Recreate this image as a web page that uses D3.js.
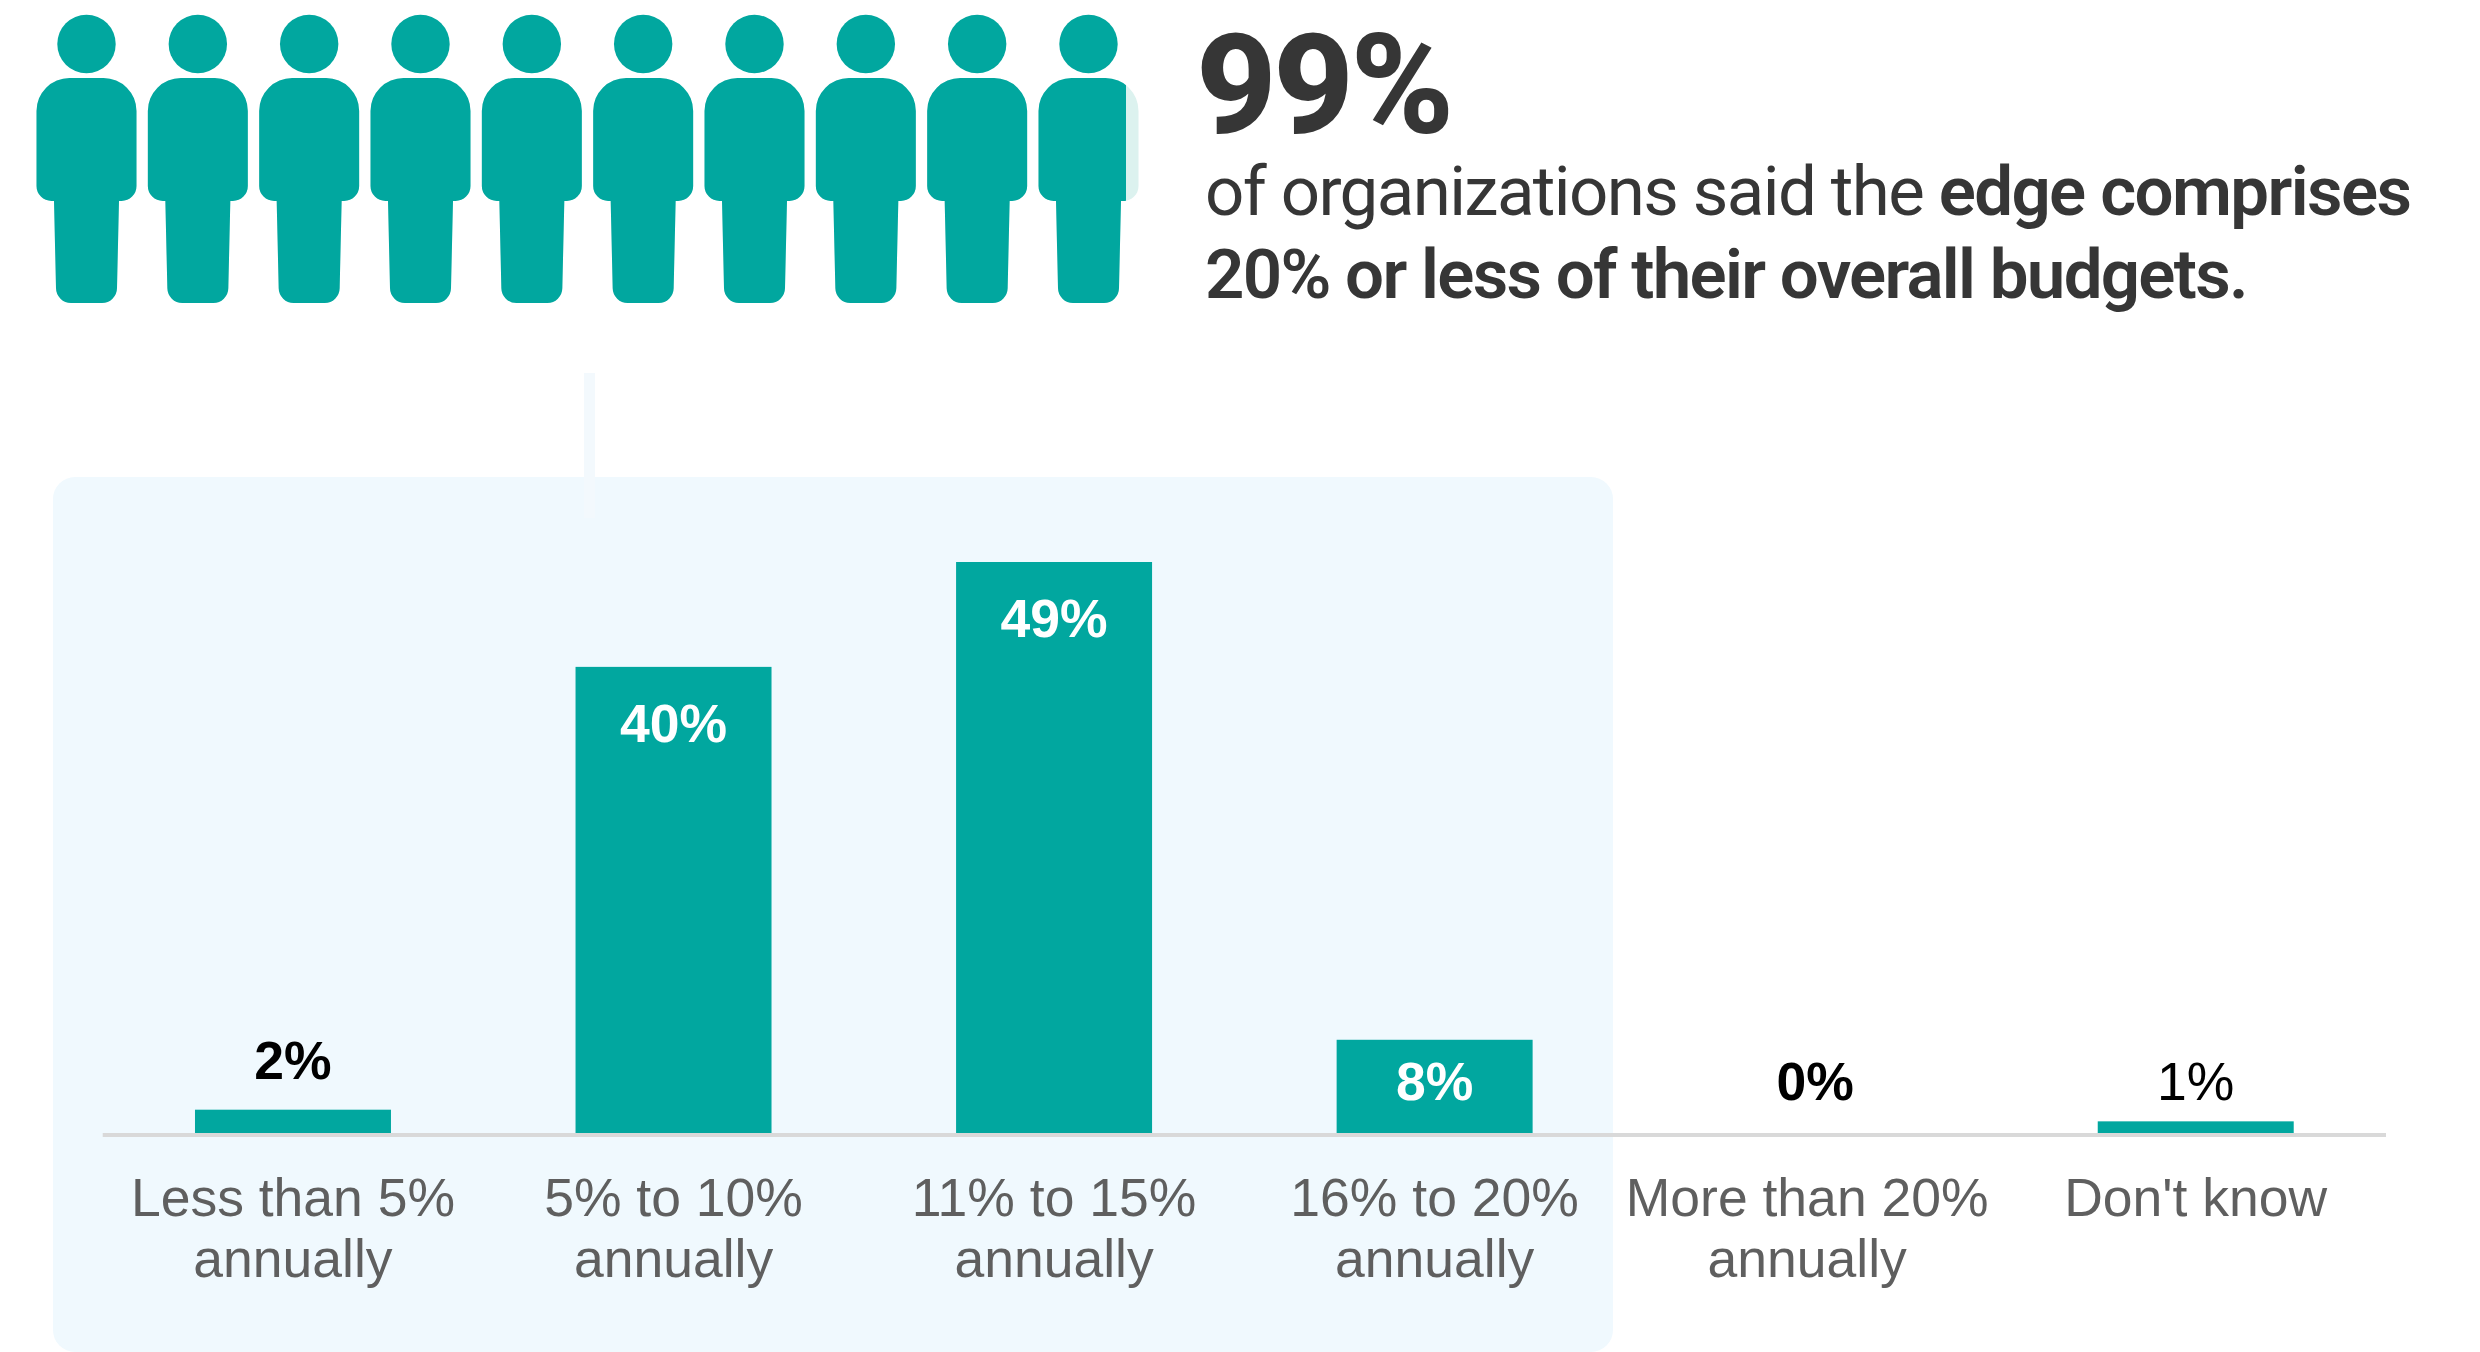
<!DOCTYPE html>
<html>
<head>
<meta charset="utf-8">
<script src="https://cdnjs.cloudflare.com/ajax/libs/d3/7.9.0/d3.min.js"></script>
<style>
  html, body { margin: 0; padding: 0; background: #fff; }
  svg { display: block; }
</style>
</head>
<body>
<svg id="chart" width="2480" height="1352"></svg>
<script>
// Survey answers: share of organizations per annual budget band
const categories = [
  ["Less than 5%", "annually"],
  ["5% to 10%", "annually"],
  ["11% to 15%", "annually"],
  ["16% to 20%", "annually"],
  ["More than 20%", "annually"],
  ["Don't know"]
];
const values = [2, 40, 49, 8, 0, 1];
const valueLabels = ["2%", "40%", "49%", "8%", "0%", "1%"];
const labelWeights = [700, 700, 700, 700, 700, 400];
const categoryNudge = [0, 0, 0, 0, -8, 0];
const headlineValue = 99;
const headlineLead = "of organizations said the ";
const headlineStrong = "edge comprises";
const headlineSecond = "20% or less of their overall budgets.";
const peopleCount = 10;

const TEAL = "#01a79f";
const TEAL_PALE = "#dcf2ef";
const INK = "#363636";
const GREY = "#5f5f5f";
const ARIAL = "'Liberation Sans', Arial, sans-serif";
const ROBOTO = "Roboto, sans-serif";

const svg = d3.select("#chart");

// Highlight panel behind the first four bands, open at the page bottom edge
svg.append("rect")
  .attr("x", 53).attr("y", 477)
  .attr("width", 1560).attr("height", 875)
  .attr("rx", 22)
  .attr("fill", "#f0f9fe");

// Thin connector from the pictogram down into the panel
svg.append("rect")
  .attr("x", 584).attr("y", 373)
  .attr("width", 11).attr("height", 145)
  .attr("fill", "#f3f9fd");

// Bars
const x = d3.scaleBand()
  .domain(d3.range(categories.length))
  .range([102.7, 2386])
  .paddingInner(0.485)
  .paddingOuter(0.2425);
const y = d3.scaleLinear().domain([0, 49]).range([1133, 562]);

svg.selectAll("rect.bar")
  .data(values)
  .join("rect")
  .attr("class", "bar")
  .attr("x", (d, i) => x(i))
  .attr("y", d => y(d))
  .attr("width", x.bandwidth())
  .attr("height", d => y(0) - y(d))
  .attr("fill", TEAL);

// Baseline
svg.append("line")
  .attr("x1", 102.7).attr("x2", 2386)
  .attr("y1", 1135).attr("y2", 1135)
  .attr("stroke", "#d9d9d9").attr("stroke-width", 4);

// Value labels: white inside the teal bars, black above the short ones
const insideAt = 8;
const tallAt = 40;
svg.selectAll("text.value")
  .data(values)
  .join("text")
  .attr("class", "value")
  .attr("x", (d, i) => x(i) + x.bandwidth() / 2)
  .attr("y", d => {
    if (d >= tallAt) return y(d) + 75;
    return d === 2 ? 1079 : 1100;
  })
  .attr("text-anchor", "middle")
  .attr("font-family", ARIAL)
  .attr("font-size", 53.5)
  .attr("font-weight", (d, i) => labelWeights[i])
  .attr("fill", d => d >= insideAt ? "#ffffff" : "#000000")
  .text((d, i) => valueLabels[i]);

// Category labels
const catLabels = svg.selectAll("text.category")
  .data(categories)
  .join("text")
  .attr("class", "category")
  .attr("text-anchor", "middle")
  .attr("font-family", ARIAL)
  .attr("font-size", 53.5)
  .attr("fill", GREY);
catLabels.selectAll("tspan")
  .data((d, i) => d.map(line => ({ line, i })))
  .join("tspan")
  .attr("x", d => x(d.i) + x.bandwidth() / 2 + categoryNudge[d.i])
  .attr("y", (d, j) => 1216 + j * 61)
  .text(d => d.line);

// Pictogram row: each figure is filled up to its share of the headline value
const person = d3.path();
person.moveTo(69.5, 78);
person.lineTo(103.5, 78);
person.arcTo(136.5, 78, 136.5, 111, 33);
person.lineTo(136.5, 186);
person.arcTo(136.5, 201, 121.5, 201, 15);
person.lineTo(119, 201);
person.lineTo(117, 288);
person.arcTo(116.7, 303, 102, 303, 15);
person.lineTo(71, 303);
person.arcTo(56.3, 303, 56, 288, 15);
person.lineTo(54, 201);
person.lineTo(51.5, 201);
person.arcTo(36.5, 201, 36.5, 186, 15);
person.lineTo(36.5, 111);
person.arcTo(36.5, 78, 69.5, 78, 33);
person.closePath();

const slot = d3.scaleLinear().domain([0, peopleCount - 1]).range([0, 1002]);
const perPerson = 100 / peopleCount;
const fillEdge = d3.scaleLinear().domain([0, 1]).range([11.5, 136.5]);
const defs = svg.append("defs");

const people = svg.selectAll("g.person")
  .data(d3.range(peopleCount))
  .join("g")
  .attr("class", "person")
  .attr("transform", i => `translate(${slot(i)},0)`);

people.each(function (i) {
  const g = d3.select(this);
  const share = Math.max(0, Math.min(1, (headlineValue - i * perPerson) / perPerson));
  const clipId = `person-fill-${i}`;
  defs.append("clipPath").attr("id", clipId)
    .append("rect")
    .attr("x", 0).attr("y", 0)
    .attr("width", share === 1 ? 200 : fillEdge(share))
    .attr("height", 340);
  g.append("circle").attr("cx", 86.5).attr("cy", 44).attr("r", 29.2).attr("fill", TEAL);
  g.append("path").attr("d", person.toString()).attr("fill", TEAL_PALE);
  g.append("path").attr("d", person.toString()).attr("fill", TEAL)
    .attr("clip-path", `url(#${clipId})`);
});

// Headline
svg.append("text")
  .attr("x", 1196).attr("y", 133)
  .attr("font-family", ROBOTO).attr("font-size", 140).attr("font-weight", 800)
  .attr("letter-spacing", -3.5)
  .attr("fill", INK)
  .text(headlineValue + "%");

const line1 = svg.append("text")
  .attr("x", 1205).attr("y", 215)
  .attr("font-family", ROBOTO).attr("font-size", 69)
  .attr("letter-spacing", -1.6)
  .attr("fill", INK);
line1.append("tspan").attr("font-weight", 400).text(headlineLead);
line1.append("tspan").attr("font-weight", 600).text(headlineStrong);

svg.append("text")
  .attr("x", 1205).attr("y", 298)
  .attr("font-family", ROBOTO).attr("font-size", 69).attr("font-weight", 600)
  .attr("letter-spacing", -1.7)
  .attr("fill", INK)
  .text(headlineSecond);
</script>
</body>
</html>
